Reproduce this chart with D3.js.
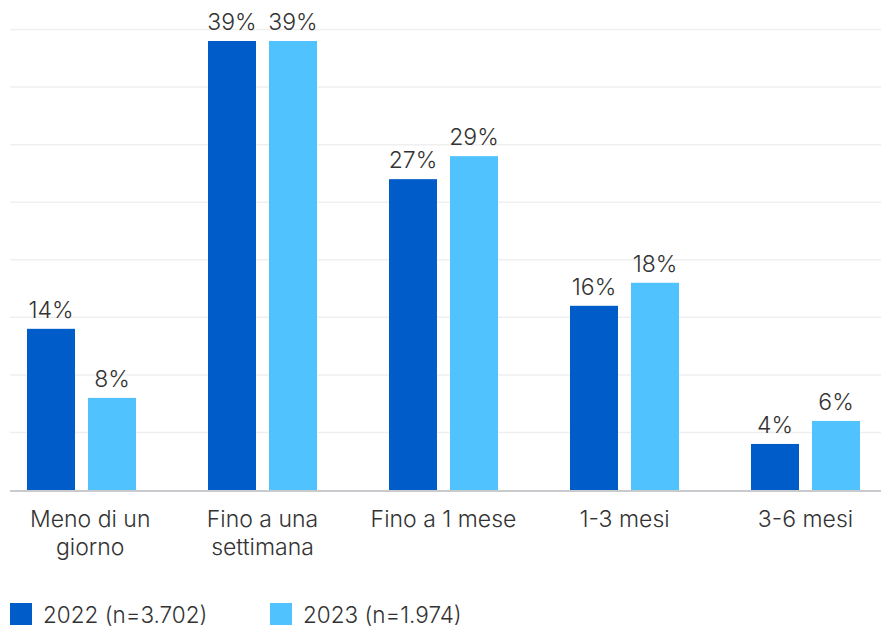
<!DOCTYPE html>
<html>
<head>
<meta charset="utf-8">
<script src="https://cdn.jsdelivr.net/npm/d3@7"></script>
<style>
  html, body { margin: 0; padding: 0; background: #fff; }
  svg { display: block; font-family: Inter, "Noto Sans", sans-serif; font-weight: 300; }
</style>
</head>
<body>
<svg id="chart" width="881" height="628"></svg>
<script>
// Durata: quota di rispondenti per fascia di tempo
const categories = ["Meno di un\ngiorno", "Fino a una\nsettimana", "Fino a 1 mese", "1-3 mesi", "3-6 mesi"];
const seriesNames = ["2022 (n=3.702)", "2023 (n=1.974)"];
const values2022 = [14, 39, 27, 16, 4];
const values2023 = [8, 39, 29, 18, 6];
const yTicks = [0, 5, 10, 15, 20, 25, 30, 35, 40];
const colors = ["#005cc8", "#50c3ff"];

const svg = d3.select("#chart");
const W = 881;
const labelMinX = 30;

const y = d3.scaleLinear().domain([0, 40]).range([490, 29.5]);
const x0 = d3.scaleBand().domain(categories).range([-9, 896]).padding(0);
const x1 = d3.scaleBand().domain(seriesNames).range([36, 145]).paddingInner(0.213).paddingOuter(0);

// griglia orizzontale
svg.append("g")
  .selectAll("line")
  .data(yTicks.filter(d => d > 0))
  .join("line")
  .attr("x1", 10).attr("x2", W)
  .attr("y1", d => y(d)).attr("y2", d => y(d))
  .attr("stroke", "#efefef").attr("stroke-width", 1.5);

const rows = categories.map((c, i) => ({ cat: c, vals: [values2022[i], values2023[i]] }));

const groups = svg.append("g")
  .selectAll("g")
  .data(rows)
  .join("g")
  .attr("transform", d => `translate(${x0(d.cat)},0)`);

groups.selectAll("rect")
  .data(d => d.vals.map((v, j) => ({ s: seriesNames[j], v, j })))
  .join("rect")
  .attr("x", d => x1(d.s))
  .attr("width", x1.bandwidth())
  .attr("y", d => y(d.v))
  .attr("height", d => y(0) - y(d.v))
  .attr("fill", d => colors[d.j]);

groups.selectAll("text.val")
  .data(d => d.vals.map((v, j) => ({ s: seriesNames[j], v, j })))
  .join("text")
  .attr("class", "val")
  .attr("x", d => x1(d.s) + x1.bandwidth() / 2)
  .attr("y", d => y(d.v) - 11)
  .attr("text-anchor", "middle")
  .attr("font-size", 23)
  .attr("fill", "#333")
  .text(d => d.v + "%");

// linea di base
svg.append("line")
  .attr("x1", 10).attr("x2", W)
  .attr("y1", y(0) + 1).attr("y2", y(0) + 1)
  .attr("stroke", "#c8cacd").attr("stroke-width", 2);

// etichette delle categorie (tenute dentro il margine sinistro)
const xAxis = svg.append("g");
rows.forEach(r => {
  const cx = x0(r.cat) + x0.bandwidth() / 2;
  const t = xAxis.append("text")
    .attr("y", 527)
    .attr("text-anchor", "middle")
    .attr("font-size", 23)
    .attr("fill", "#333");
  const spans = r.cat.split("\n").map((line, k) =>
    t.append("tspan")
      .attr("x", cx)
      .attr("dy", k === 0 ? 0 : 28)
      .text(line));
  const box = t.node().getBBox();
  if (box.x < labelMinX) {
    const shift = labelMinX - box.x;
    spans.forEach(s => s.attr("x", cx + shift));
  }
});

// legenda
const legendX = [10, 270];
const legend = svg.append("g");
seriesNames.forEach((name, i) => {
  legend.append("rect")
    .attr("x", legendX[i]).attr("y", 603)
    .attr("width", 22).attr("height", 22)
    .attr("fill", colors[i]);
  legend.append("text")
    .attr("x", legendX[i] + 33).attr("y", 623)
    .attr("font-size", 22.5)
    .attr("fill", "#333")
    .text(name);
});
</script>
</body>
</html>
